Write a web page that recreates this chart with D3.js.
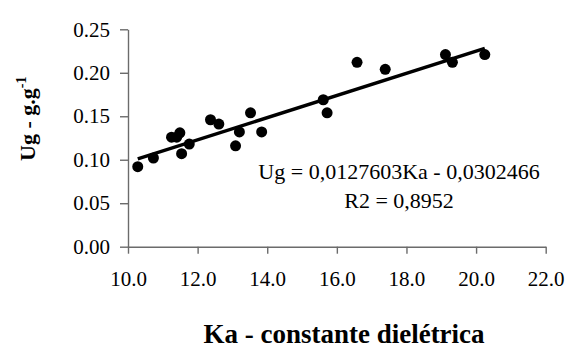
<!DOCTYPE html>
<html>
<head>
<meta charset="utf-8">
<script src="https://cdn.jsdelivr.net/npm/d3@7"></script>
<style>
  html, body { margin: 0; padding: 0; background: #fff; }
  svg { display: block; }
  text { font-family: "Liberation Serif", "Times New Roman", serif; fill: #000; }
</style>
</head>
<body>
<svg id="chart" width="570" height="349"></svg>
<script>
// Dielectric constant (Ka) readings and matching gravimetric moisture (Ug, g.g-1)
const ka = [10.28, 10.73, 11.25, 11.40, 11.49, 11.54, 11.76, 12.37, 12.61, 13.09,
            13.20, 13.52, 13.84, 15.61, 15.72, 16.58, 17.39, 19.12, 19.32, 20.25];
const ug = [0.092, 0.102, 0.126, 0.126, 0.131, 0.107, 0.118, 0.146, 0.141, 0.116,
            0.132, 0.154, 0.132, 0.169, 0.154, 0.212, 0.204, 0.221, 0.212, 0.221];

// Fitted linear model and its goodness of fit
const slope = 0.0127603;
const intercept = -0.0302466;
const fitLabels = ["Ug = 0,0127603Ka - 0,0302466", "R2 = 0,8952"];

// Axis ticks
const xTicks = [10, 12, 14, 16, 18, 20, 22];
const yTicks = [0, 0.05, 0.10, 0.15, 0.20, 0.25];
const xTitle = "Ka - constante dielétrica";
const yTitle = "Ug - g.g";
const yTitleSup = "-1";

const svg = d3.select("#chart");
svg.append("rect").attr("width", 570).attr("height", 349).attr("fill", "#fff");

const x = d3.scaleLinear().domain([10, 22]).range([128, 545.7]);
const y = d3.scaleLinear().domain([0, 0.25]).range([246.7, 29.3]);

const axisColor = "#6b6b6b";

// Y axis
const gy = svg.append("g").attr("transform", `translate(${x(10)},0)`)
  .call(d3.axisLeft(y).tickValues(yTicks).tickFormat(d3.format(".2f"))
    .tickSizeOuter(0).tickSizeInner(8).tickPadding(10));
gy.attr("font-family", null);
gy.select(".domain").attr("stroke", axisColor).attr("stroke-width", 1.4);
gy.selectAll(".tick line").attr("stroke", axisColor).attr("stroke-width", 1.4);
gy.selectAll(".tick text").attr("font-size", 21).attr("fill", "#000");

// X axis
const gx = svg.append("g").attr("transform", `translate(0,${y(0)})`)
  .call(d3.axisBottom(x).tickValues(xTicks).tickFormat(d3.format(".1f"))
    .tickSizeOuter(0).tickSizeInner(7).tickPadding(17));
gx.attr("font-family", null);
gx.select(".domain").attr("stroke", axisColor).attr("stroke-width", 1.4);
gx.selectAll(".tick line").attr("stroke", axisColor).attr("stroke-width", 1.4);
gx.selectAll(".tick text").attr("font-size", 21).attr("fill", "#000");

// Regression line over the observed Ka range
const xMin = d3.min(ka), xMax = d3.max(ka);
svg.append("line")
  .attr("x1", x(xMin)).attr("y1", y(slope * xMin + intercept))
  .attr("x2", x(xMax)).attr("y2", y(slope * xMax + intercept))
  .attr("stroke", "#000").attr("stroke-width", 3.4).attr("stroke-linecap", "butt");

// Observations
svg.append("g").selectAll("circle")
  .data(d3.zip(ka, ug))
  .join("circle")
  .attr("cx", d => x(d[0]))
  .attr("cy", d => y(d[1]))
  .attr("r", 5.5)
  .attr("fill", "#000");

// Equation and R2
svg.append("g").selectAll("text")
  .data(fitLabels)
  .join("text")
  .attr("x", 399)
  .attr("y", (d, i) => 179 + i * 29)
  .attr("text-anchor", "middle")
  .attr("font-size", 22)
  .text(d => d);

// Axis titles
svg.append("text")
  .attr("x", 344).attr("y", 343)
  .attr("text-anchor", "middle")
  .attr("font-size", 27)
  .attr("font-weight", "bold")
  .text(xTitle);

const yt = svg.append("text")
  .attr("transform", "translate(35,161) rotate(-90)")
  .attr("font-size", 22)
  .attr("font-weight", "bold");
yt.append("tspan").text(yTitle);
yt.append("tspan").attr("font-size", 14).attr("dy", -9).text(yTitleSup);
</script>
</body>
</html>
